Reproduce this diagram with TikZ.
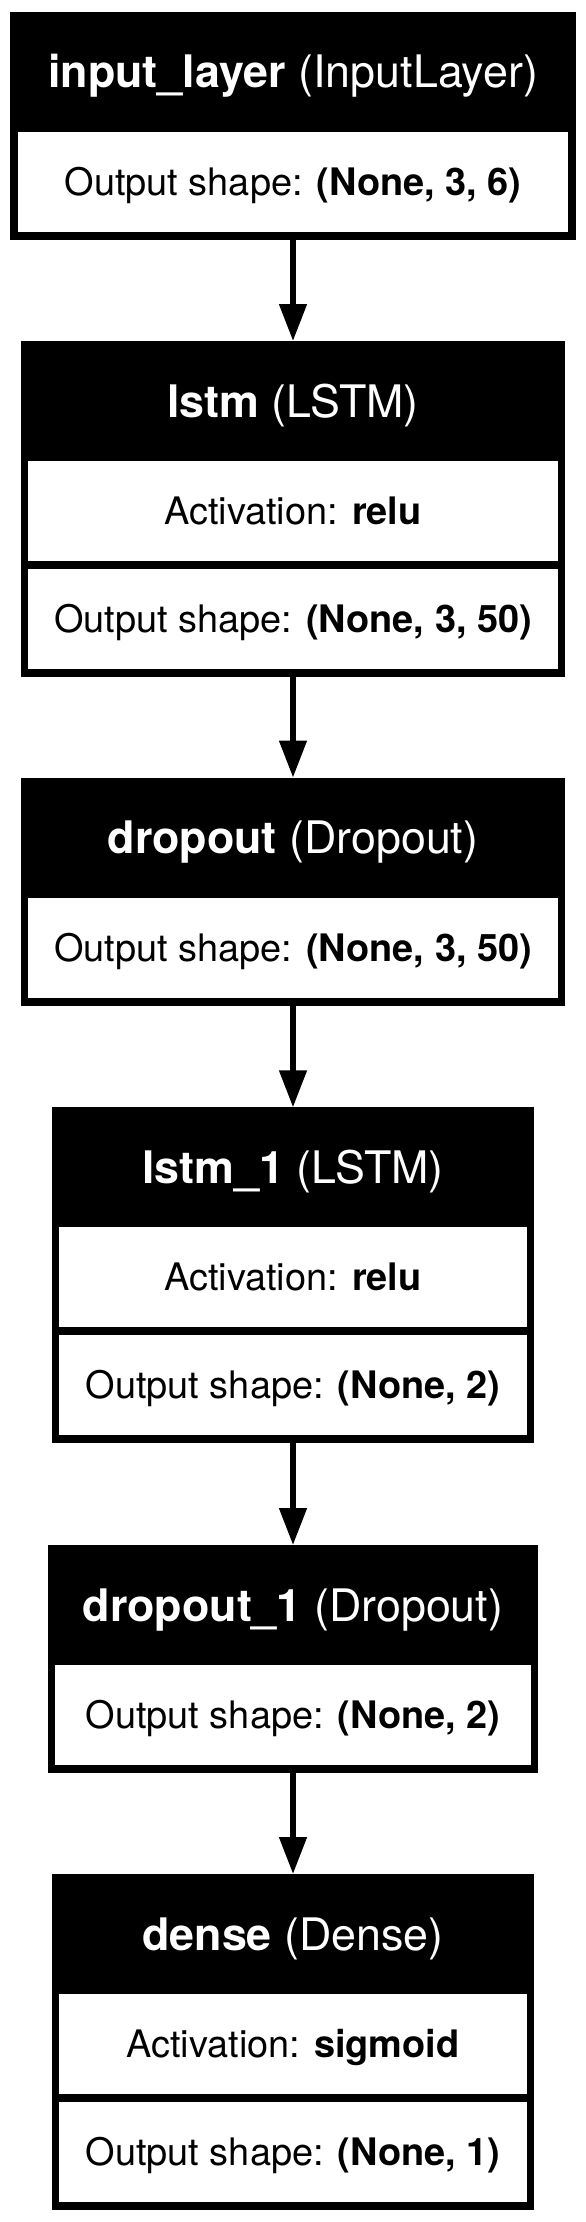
\documentclass[tikz,border=0pt]{standalone}
\usepackage{fontspec}
\setmainfont{TeX Gyre Heros}
\usetikzlibrary{arrows.meta,positioning}

\newcommand{\headfont}{\fontsize{44.8}{50}\selectfont}
\newcommand{\rowfont}{\fontsize{37.9}{44}\selectfont}

\begin{document}
\begin{tikzpicture}[x=1pt, y=1pt,
    layer/.style={rectangle, fill=black, inner sep=0pt, outer sep=0pt, anchor=north},
    head/.style={text=white, font=\headfont, inner sep=0pt, text height=32.2pt, text depth=0pt},
    row/.style={rectangle, fill=white, inner sep=0pt, outer sep=0pt, minimum width=#1, minimum height=100pt, font=\rowfont, text height=27.2pt, text depth=0pt},
    arrow/.style={-{Triangle[length=37pt, width=26.7pt]}, line width=5.7pt}]

\useasboundingbox (0,0) rectangle (586,-2222);

% layer boxes
\node[layer, minimum width=565.5pt, minimum height=228pt] (inp) at (293, -11.7) {};
\node[layer, minimum width=544.5pt, minimum height=336pt] (lstm) at (293, -341) {};
\node[layer, minimum width=544.5pt, minimum height=228pt] (drop) at (293, -777.5) {};
\node[layer, minimum width=482.8pt, minimum height=336pt] (lstmb) at (293, -1107.3) {};
\node[layer, minimum width=490.5pt, minimum height=228pt] (dropb) at (293, -1545) {};
\node[layer, minimum width=482.8pt, minimum height=336pt] (dense) at (293, -1874) {};

\node[head] (inphead) at ([yshift=-60pt]inp.north) {\textbf{input\_layer} (InputLayer)};
\node[row=550.1pt, below=120pt of inp.north] (inpshape) {Output shape: \textbf{(None, 3, 6)}};

\node[head] (lstmhead) at ([yshift=-60pt]lstm.north) {\textbf{lstm} (LSTM)};
\node[row=529.1pt, below=120pt of lstm.north] (lstmact) {Activation: \textbf{relu}};
\node[row=529.1pt, below=8pt of lstmact] (lstmshape) {Output shape: \textbf{(None, 3, 50)}};

\node[head] (drophead) at ([yshift=-60pt]drop.north) {\textbf{dropout} (Dropout)};
\node[row=529.1pt, below=120pt of drop.north] (dropshape) {Output shape: \textbf{(None, 3, 50)}};

\node[head] (lstmbhead) at ([yshift=-60pt]lstmb.north) {\textbf{lstm\_1} (LSTM)};
\node[row=467.4pt, below=120pt of lstmb.north] (lstmbact) {Activation: \textbf{relu}};
\node[row=467.4pt, below=8pt of lstmbact] (lstmbshape) {Output shape: \textbf{(None, 2)}};

\node[head] (dropbhead) at ([yshift=-60pt]dropb.north) {\textbf{dropout\_1} (Dropout)};
\node[row=475.1pt, below=120pt of dropb.north] (dropbshape) {Output shape: \textbf{(None, 2)}};

\node[head] (densehead) at ([yshift=-60pt]dense.north) {\textbf{dense} (Dense)};
\node[row=467.4pt, below=120pt of dense.north] (denseact) {Activation: \textbf{sigmoid}};
\node[row=467.4pt, below=8pt of denseact] (denseshape) {Output shape: \textbf{(None, 1)}};

% flow
\draw[arrow] (inp) -- (lstm);
\draw[arrow] (lstm) -- (drop);
\draw[arrow] (drop) -- (lstmb);
\draw[arrow] (lstmb) -- (dropb);
\draw[arrow] (dropb) -- (dense);

\end{tikzpicture}
\end{document}
